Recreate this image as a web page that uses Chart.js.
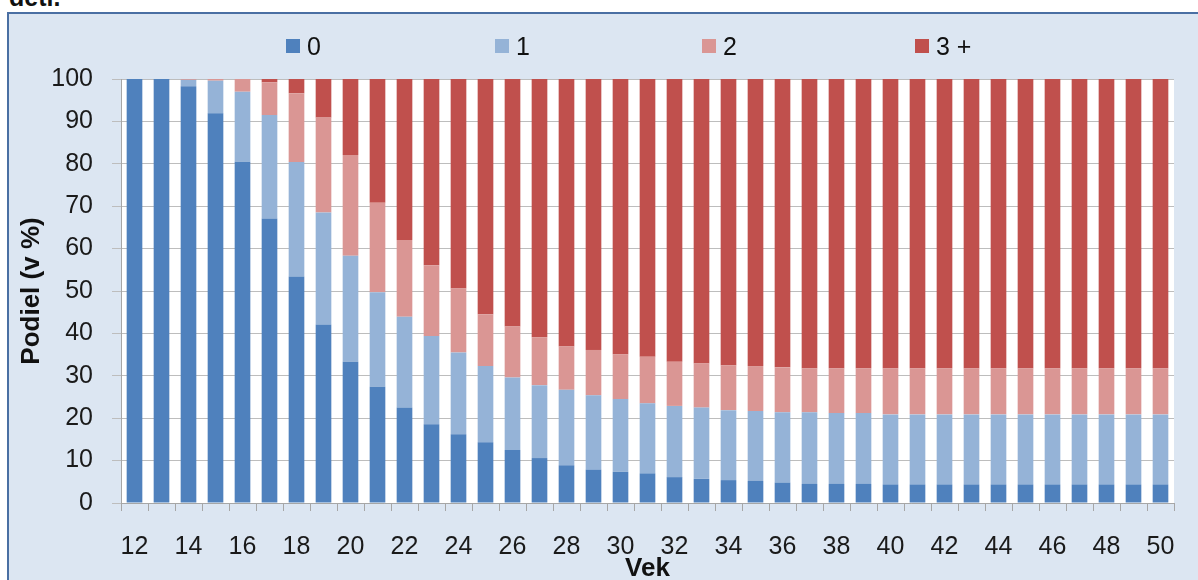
<!DOCTYPE html>
<html>
<head>
<meta charset="utf-8">
<script src="https://cdn.jsdelivr.net/npm/chart.js@4"></script>
<style>
  body { margin: 0; background: #fff; font-family: "Liberation Sans", Arial, sans-serif; }
  .page { position: relative; width: 1198px; height: 580px; overflow: hidden; }
  .caption { position: absolute; left: 9px; top: -17px; font-weight: bold; font-size: 25px; color: #111; }
  .frame { position: absolute; left: 7px; top: 12px; width: 1200px; height: 600px;
           border: 2px solid #4a6fa3; background: #dce6f2; }
  .chart-wrap { position: absolute; left: 0; top: 0; width: 1198px; height: 580px; }
  .legend-item { position: absolute; top: 31px; font-size: 25px; color: #111; line-height: 30px; }
  .legend-item i { position: absolute; left: 0; top: 8px; width: 14px; height: 14px; }
  .legend-item span { position: absolute; left: 21px; top: 0; white-space: nowrap; }
</style>
</head>
<body>
<div class="page">
  <div class="caption">deti.</div>
  <div class="frame"></div>
  <div class="chart-wrap"><canvas id="chart"></canvas></div>
  <div id="legend"></div>
</div>
<script>
// vek (roky)
const ages = [12,13,14,15,16,17,18,19,20,21,22,23,24,25,26,27,28,29,30,31,
              32,33,34,35,36,37,38,39,40,41,42,43,44,45,46,47,48,49,50];

const seriesNames = ['0', '1', '2', '3 +'];
const seriesColors = ['#4f81bd', '#95b3d7', '#da9694', '#c0504d'];

// podiel v % podla poctu deti
const share0 = [100,100,98.3,91.9,80.5,67.1,53.4,42.1,33.3,27.4,22.5,18.6,16.2,14.3,12.5,10.6,8.9,7.9,7.4,7.0,
                6.1,5.7,5.4,5.2,4.8,4.5,4.5,4.5,4.4,4.4,4.4,4.4,4.4,4.4,4.4,4.4,4.4,4.4,4.4];
const share1 = [0,0,1.5,7.7,16.5,24.4,27.0,26.4,25.0,22.3,21.4,20.8,19.3,18.0,17.1,17.2,17.8,17.5,17.1,16.5,
                16.8,16.8,16.5,16.5,16.6,16.9,16.7,16.7,16.5,16.5,16.5,16.5,16.5,16.5,16.5,16.5,16.5,16.5,16.5];
const share2 = [0,0,0.2,0.4,3.0,7.7,16.2,22.4,23.8,21.1,18.1,16.7,15.1,12.2,12.0,11.3,10.2,10.7,10.6,11.0,
                10.4,10.4,10.6,10.6,10.6,10.4,10.6,10.6,10.9,10.9,10.9,10.9,10.9,10.9,10.9,10.9,10.9,10.9,10.9];
const share3 = [0,0,0,0,0,0.8,3.4,9.1,17.9,29.2,38.0,43.9,49.4,55.5,58.4,60.9,63.1,63.9,64.9,65.5,
                66.7,67.1,67.5,67.7,68.0,68.2,68.2,68.2,68.2,68.2,68.2,68.2,68.2,68.2,68.2,68.2,68.2,68.2,68.2];

const yTicks = [0,10,20,30,40,50,60,70,80,90,100];

// legenda nad grafom
const legendLeft = [286, 495, 702, 915];
const legend = document.getElementById('legend');
seriesNames.forEach(function (name, i) {
    const item = document.createElement('div');
    item.className = 'legend-item';
    item.style.left = legendLeft[i] + 'px';
    item.innerHTML = '<i style="background:' + seriesColors[i] + '"></i><span>' + name + '</span>';
    legend.appendChild(item);
});

const plotBg = {
    id: 'plotBg',
    beforeDraw(chart) {
        const a = chart.chartArea;
        chart.ctx.save();
        chart.ctx.fillStyle = '#ffffff';
        chart.ctx.fillRect(a.left, a.top, a.right - a.left, a.bottom - a.top);
        chart.ctx.restore();
    }
};

const font = '"Liberation Sans", Arial, sans-serif';
const shares = [share0, share1, share2, share3];

const ctx = document.getElementById('chart').getContext('2d');
const myChart = new Chart(ctx, {
    type: 'bar',
    data: {
        labels: ages,
        datasets: shares.map(function (d, i) {
            return {
                label: seriesNames[i],
                data: d,
                backgroundColor: seriesColors[i],
                borderWidth: 0,
                categoryPercentage: 1,
                barPercentage: 0.58,
            };
        }),
    },
    options: {
        responsive: true,
        maintainAspectRatio: false,
        animation: false,
        layout: { padding: { left: 0, right: 24, top: 79, bottom: 0 } },
        plugins: {
            legend: { display: false },
            tooltip: { enabled: false },
        },
        scales: {
            x: {
                stacked: true,
                afterFit: function (scale) { scale.height = 77; },
                grid: { drawOnChartArea: false, drawTicks: true, tickLength: 8, color: '#a6a6a6' },
                border: { color: '#a6a6a6' },
                ticks: {
                    autoSkip: false,
                    maxRotation: 0,
                    padding: 21,
                    color: '#1a1a1a',
                    font: { family: font, size: 25 },
                    callback: function (value, index) {
                        return ages[index] % 2 === 0 ? String(ages[index]) : '';
                    },
                },
                title: {
                    display: true,
                    text: 'Vek',
                    color: '#111',
                    padding: { top: 0, bottom: -4 },
                    font: { family: font, size: 26, weight: 'bold' },
                },
            },
            y: {
                stacked: true,
                min: 0,
                max: 100,
                afterFit: function (scale) { scale.width = 121; },
                afterBuildTicks: function (scale) {
                    scale.ticks = yTicks.map(function (v) { return { value: v }; });
                },
                grid: { color: '#bdbdbd', tickLength: 9 },
                border: { color: '#a6a6a6' },
                ticks: {
                    padding: 19,
                    color: '#1a1a1a',
                    font: { family: font, size: 25 },
                },
                title: {
                    display: true,
                    text: 'Podiel (v %)',
                    color: '#111',
                    padding: { top: 16, bottom: 0 },
                    font: { family: font, size: 26, weight: 'bold' },
                },
            },
        },
    },
    plugins: [plotBg],
});
</script>
</body>
</html>
